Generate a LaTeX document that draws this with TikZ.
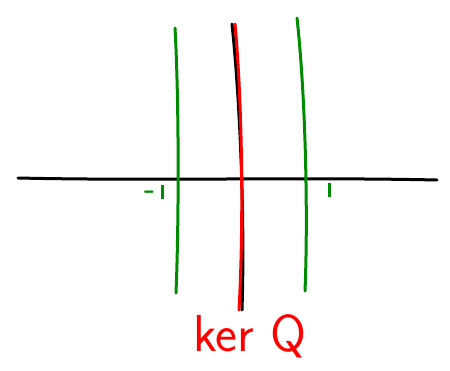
\documentclass[tikz,border=0pt]{standalone}
\usepackage{tikz}
\usetikzlibrary{positioning}
\definecolor{penGreen}{RGB}{0,140,0}
\definecolor{penRed}{RGB}{255,0,0}

\begin{document}
\begin{tikzpicture}[x=1pt,y=-1pt,line cap=round,line join=round,
    stroke/.style={line width=3pt},
    axis/.style={stroke,black},
    level/.style={stroke,penGreen},
    kernel/.style={stroke,penRed},
    tick/.style={text=penGreen,font=\sffamily\bfseries\fontsize{32}{32}\selectfont}]
    \useasboundingbox (0,0) rectangle (450,370);
    % axis
    \draw[axis] (18,178) .. controls (150,181) and (300,177) .. (437,180);
    % level lines
    \draw[level] (175,28) .. controls (179,100) and (179,220) .. (176,293);
    \draw[level] (297,18) .. controls (306,100) and (308,220) .. (305,291);
    % kernel
    \draw[axis] (232,24) .. controls (240,100) and (245,220) .. (242,310);
    \draw[kernel] (235,24) .. controls (242,100) and (244,220) .. (239,310);
    % labels
    \node[tick] (m1) at (154,192) {-\,\rule{3pt}{14pt}};
    \node[tick] (p1) at (329,190) {\rule{3pt}{14pt}};
    \node[text=penRed,font=\sffamily\fontsize{52}{52}\selectfont] (ker) at (250,336) {ker Q};
\end{tikzpicture}
\end{document}
